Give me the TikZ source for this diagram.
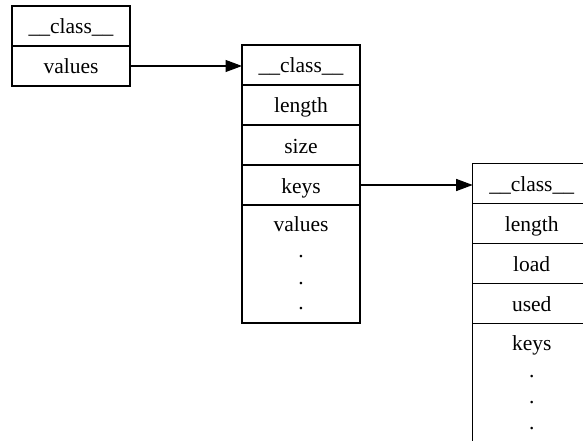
\documentclass[tikz,border=0pt]{standalone}
\usepackage{fontspec}
\setmainfont{Liberation Serif}
\usetikzlibrary{arrows.meta}
\tikzset{
  field/.style={draw, line width=1.1pt, inner sep=0pt, outer sep=0pt,
    minimum width=118pt, minimum height=40pt,
    text height=16pt, text depth=0pt},
  tallfield/.style={draw, line width=1.1pt, inner sep=0pt, outer sep=0pt,
    minimum width=118pt},
  label/.style={anchor=base, inner sep=0pt},
  link/.style={line width=1.1pt, -{Triangle[length=16.5pt,width=12pt]}}
}
\begin{document}
\begin{tikzpicture}[x=1pt, y=-1pt, font=\fontsize{21.5}{25.8}\selectfont]
\useasboundingbox (0,0) rectangle (583,441);
\clip (0,0) rectangle (583,441);

% outer object
\node[field] (a0) at (71,26) {\_\_class\_\_};
\node[field] (a1) at (71,66) {values};

% dict object
\node[field] (b0) at (301,65) {\_\_class\_\_};
\node[field] (b1) at (301,105) {length};
\node[field] (b2) at (301,145) {size};
\node[field] (b3) at (301,185) {keys};
\node[tallfield, minimum height=118pt] (b4) at (301,264) {};
\node[label] (b4t) at (301,231.5) {values};
\node[label] (b4d1) at (301,257.5) {.};
\node[label] (b4d2) at (301,284) {.};
\node[label] (b4d3) at (301,309.5) {.};

% keys object
\node[field] (c0) at (531.7,183.3) {\_\_class\_\_};
\node[field] (c1) at (531.7,223.3) {length};
\node[field] (c2) at (531.7,263.3) {load};
\node[field] (c3) at (531.7,303.3) {used};
\node[tallfield, minimum height=118.4pt] (c4) at (531.7,382.5) {};
\node[label] (c4t) at (531.7,350.8) {keys};
\node[label] (c4d1) at (531.7,377.5) {.};
\node[label] (c4d2) at (531.7,403) {.};
\node[label] (c4d3) at (531.7,429) {.};

% references
\draw[link] (a1.east) -- (a1.east -| b0.west);
\draw[link] (b3.east) -- (b3.east -| c0.west);
\end{tikzpicture}
\end{document}
